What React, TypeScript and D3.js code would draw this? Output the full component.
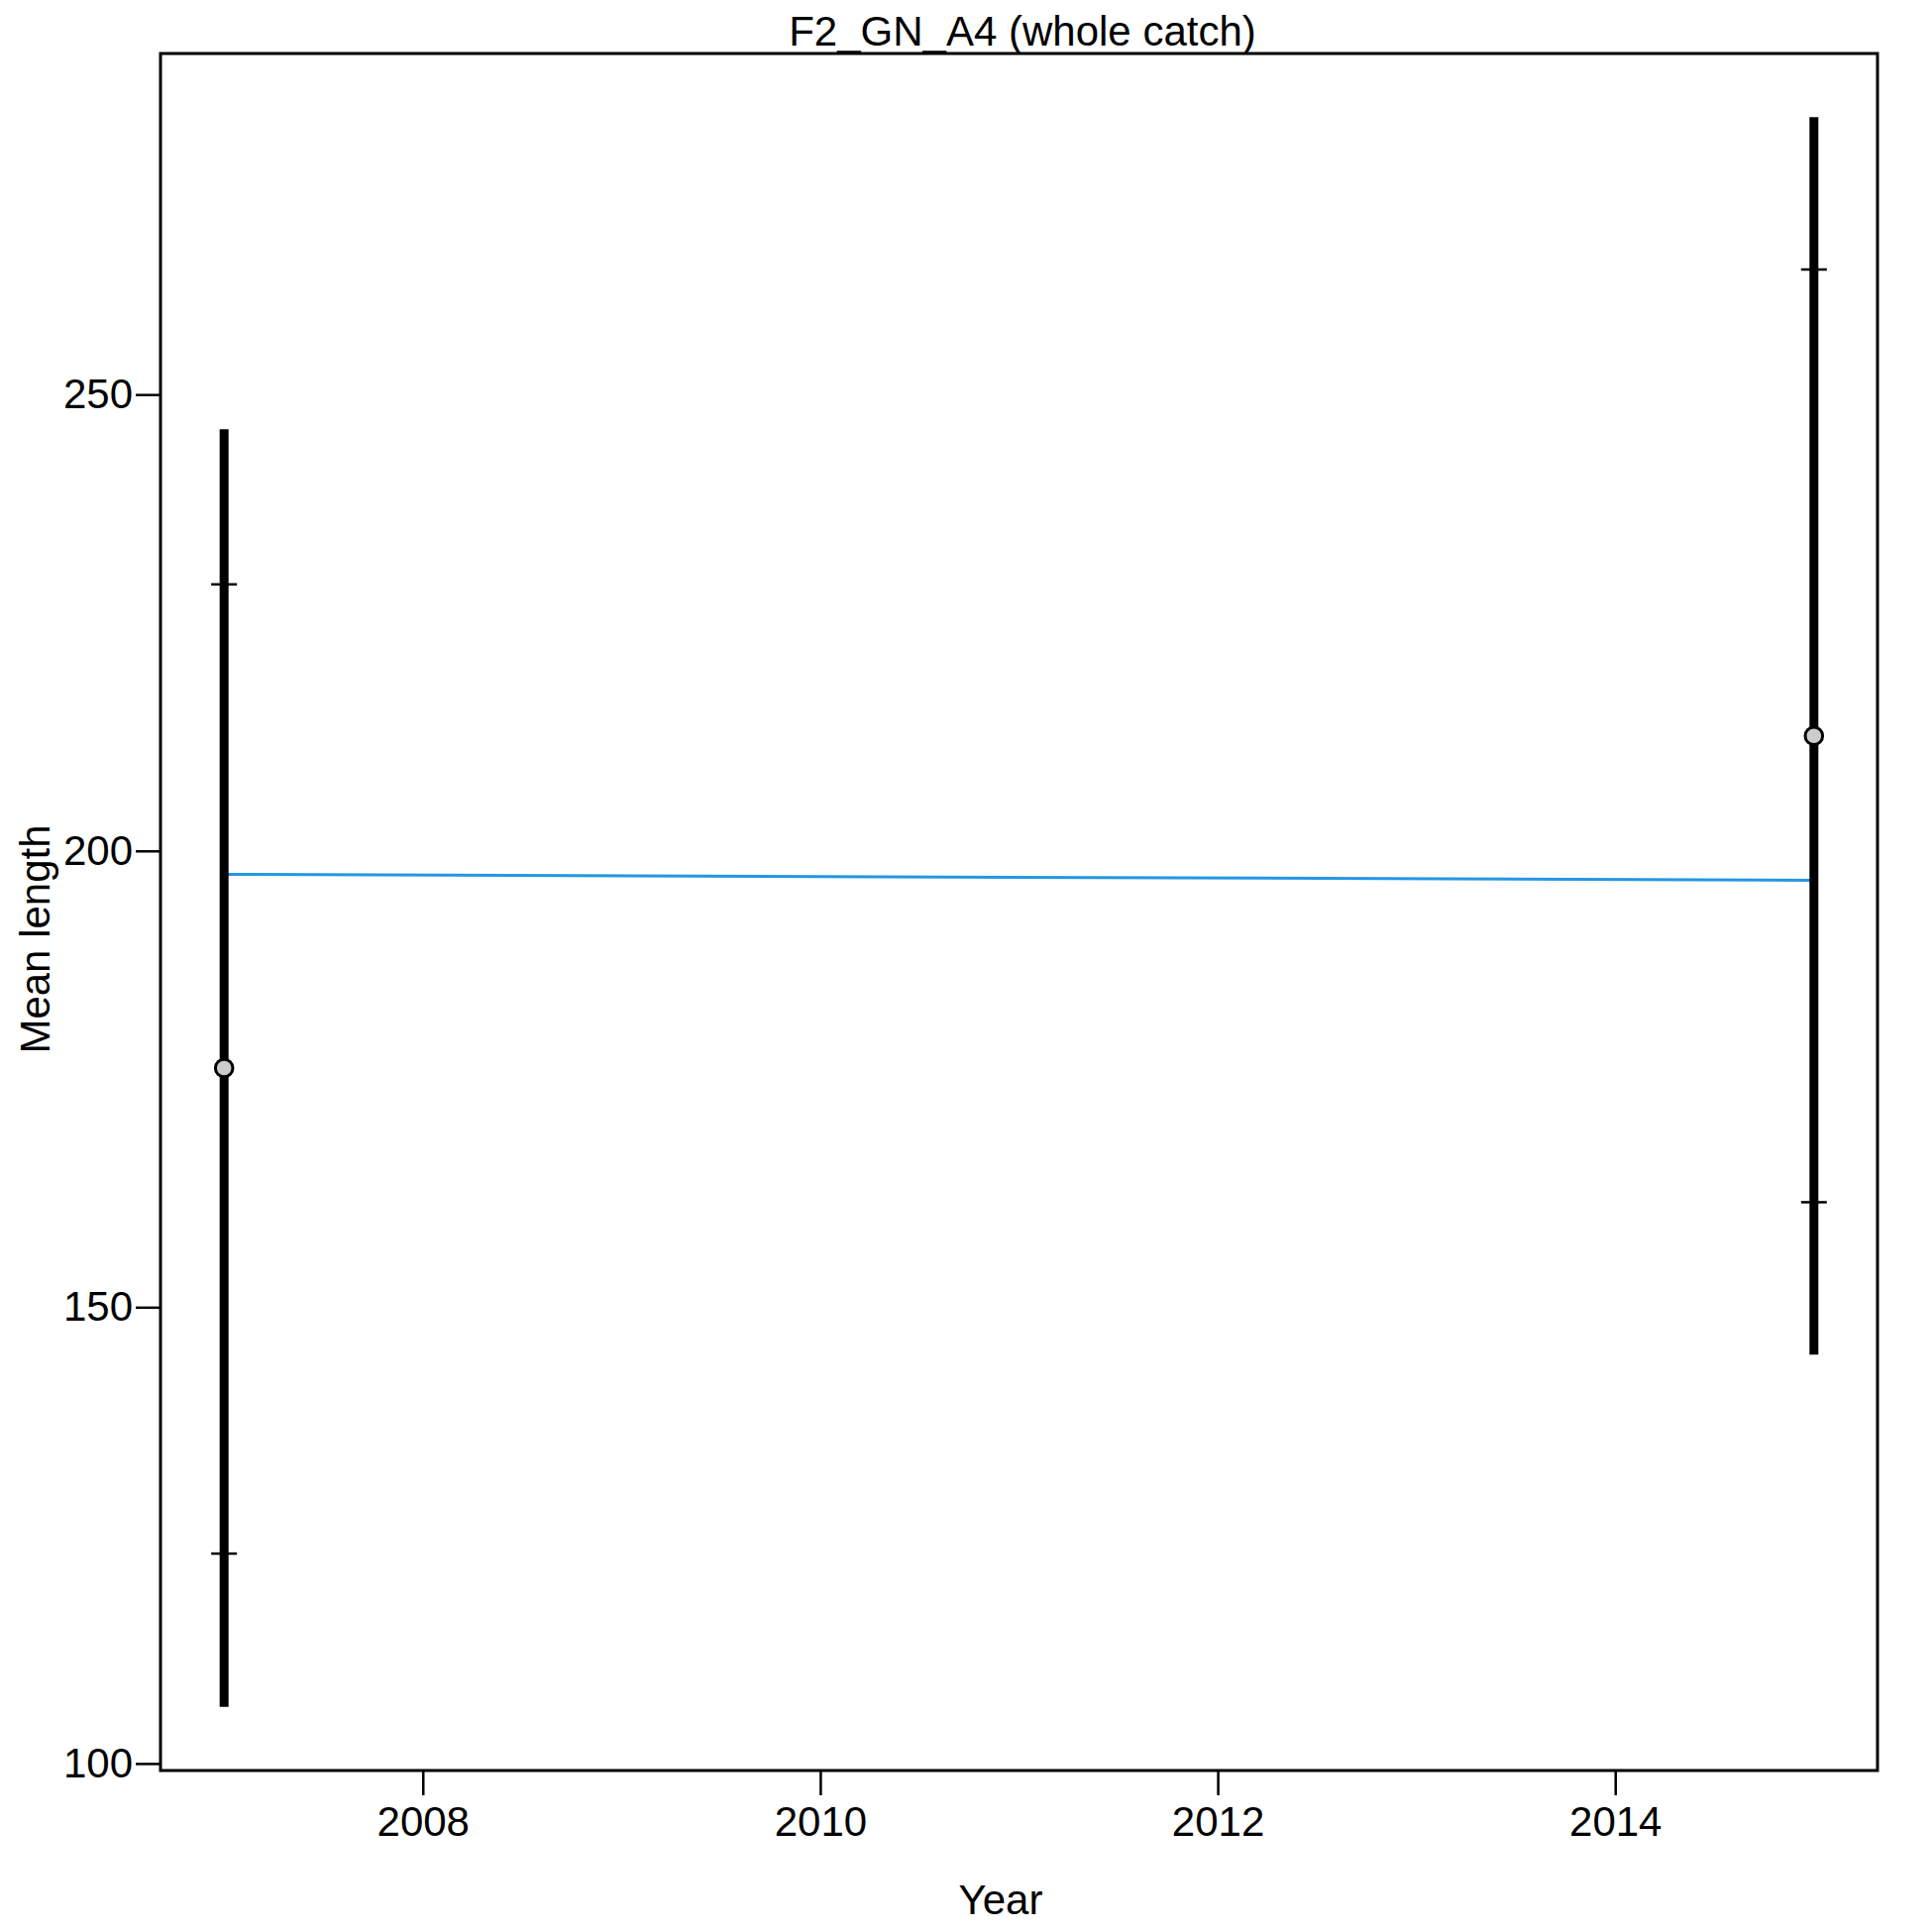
import React, { useEffect, useRef } from 'react';
import * as d3 from 'd3';

// mean length per survey year, with inner and outer intervals
const years = [2007, 2015];
const means = [176.2, 212.6];
const innerLow = [123.0, 161.5];
const innerHigh = [229.2, 263.7];
const outerLow = [106.2, 144.8];
const outerHigh = [246.2, 280.4];

// fitted trend
const trendYears = [2007, 2015];
const trendValues = [197.43, 196.78];

const xTicks = [2008, 2010, 2012, 2014];
const yTicks = [100, 150, 200, 250];

const App: React.FC = () => {
  const svgRef = useRef<SVGSVGElement>(null);

  useEffect(() => {
    if (!svgRef.current) return;
    document.body.style.margin = '0';

    const width = 1950;
    const height = 1950;
    const plot = { left: 162, right: 1895, top: 54, bottom: 1787 };
    const font = "'Liberation Sans', Arial, sans-serif";

    const svg = d3.select(svgRef.current)
      .attr('width', width)
      .attr('height', height);
    svg.selectAll('*').remove();

    svg.append('rect')
      .attr('width', width)
      .attr('height', height)
      .attr('fill', '#ffffff');

    // R style 4% padding on both axes
    const [x0, x1] = d3.extent(years) as [number, number];
    const xPad = (x1 - x0) * 0.04;
    const x = d3.scaleLinear()
      .domain([x0 - xPad, x1 + xPad])
      .range([plot.left, plot.right]);

    const yMin = d3.min(outerLow) as number;
    const yMax = d3.max(outerHigh) as number;
    const yPad = (yMax - yMin) * 0.04;
    const y = d3.scaleLinear()
      .domain([yMin - yPad, yMax + yPad])
      .range([plot.bottom, plot.top]);

    // axes
    const xAxis = svg.append('g')
      .attr('transform', `translate(0,${plot.bottom})`)
      .call(d3.axisBottom(x).tickValues(xTicks).tickFormat(d3.format('d')).tickSize(25).tickPadding(11));
    xAxis.select('.domain').remove();
    xAxis.selectAll('line').attr('stroke', '#000').attr('stroke-width', 2.5);
    xAxis.selectAll('text')
      .style('font-family', font)
      .style('font-size', '42px')
      .attr('fill', '#000');

    const yAxis = svg.append('g')
      .attr('transform', `translate(${plot.left},0)`)
      .call(d3.axisLeft(y).tickValues(yTicks).tickSize(25).tickPadding(3));
    yAxis.select('.domain').remove();
    yAxis.selectAll('line').attr('stroke', '#000').attr('stroke-width', 2.5);
    yAxis.selectAll('text')
      .style('font-family', font)
      .style('font-size', '42px')
      .attr('fill', '#000');

    // trend line
    const line = d3.line<number>()
      .x((_, i) => x(trendYears[i]))
      .y(d => y(d));
    svg.append('path')
      .datum(trendValues)
      .attr('d', line)
      .attr('fill', 'none')
      .attr('stroke', '#2596e3')
      .attr('stroke-width', 3);

    const g = svg.append('g');

    // outer interval bars
    g.selectAll('line.outer')
      .data(years)
      .join('line')
      .attr('class', 'outer')
      .attr('x1', d => x(d))
      .attr('x2', d => x(d))
      .attr('y1', (_, i) => y(outerLow[i]))
      .attr('y2', (_, i) => y(outerHigh[i]))
      .attr('stroke', '#000')
      .attr('stroke-width', 9);

    // inner interval marks
    const marks = years.flatMap((yr, i) => [
      { yr, v: innerLow[i] },
      { yr, v: innerHigh[i] },
    ]);
    g.selectAll('line.inner')
      .data(marks)
      .join('line')
      .attr('class', 'inner')
      .attr('x1', d => x(d.yr) - 13)
      .attr('x2', d => x(d.yr) + 13)
      .attr('y1', d => y(d.v))
      .attr('y2', d => y(d.v))
      .attr('stroke', '#000')
      .attr('stroke-width', 2.5);

    // means
    g.selectAll('circle')
      .data(years)
      .join('circle')
      .attr('cx', d => x(d))
      .attr('cy', (_, i) => y(means[i]))
      .attr('r', 8.8)
      .attr('fill', '#cccccc')
      .attr('stroke', '#000')
      .attr('stroke-width', 3);

    // box
    svg.append('rect')
      .attr('x', plot.left)
      .attr('y', plot.top)
      .attr('width', plot.right - plot.left)
      .attr('height', plot.bottom - plot.top)
      .attr('fill', 'none')
      .attr('stroke', '#000')
      .attr('stroke-width', 3);

    // titles
    svg.append('text')
      .attr('x', 1032)
      .attr('y', 46)
      .attr('text-anchor', 'middle')
      .style('font-family', font)
      .style('font-size', '42px')
      .text('F2_GN_A4 (whole catch)');

    svg.append('text')
      .attr('x', 1010)
      .attr('y', 1932)
      .attr('text-anchor', 'middle')
      .style('font-family', font)
      .style('font-size', '42px')
      .text('Year');

    svg.append('text')
      .attr('transform', `translate(50,948) rotate(-90)`)
      .attr('text-anchor', 'middle')
      .style('font-family', font)
      .style('font-size', '42px')
      .text('Mean length');
  }, []);

  return <svg ref={svgRef} style={{ display: 'block' }} />;
};

export default App;
